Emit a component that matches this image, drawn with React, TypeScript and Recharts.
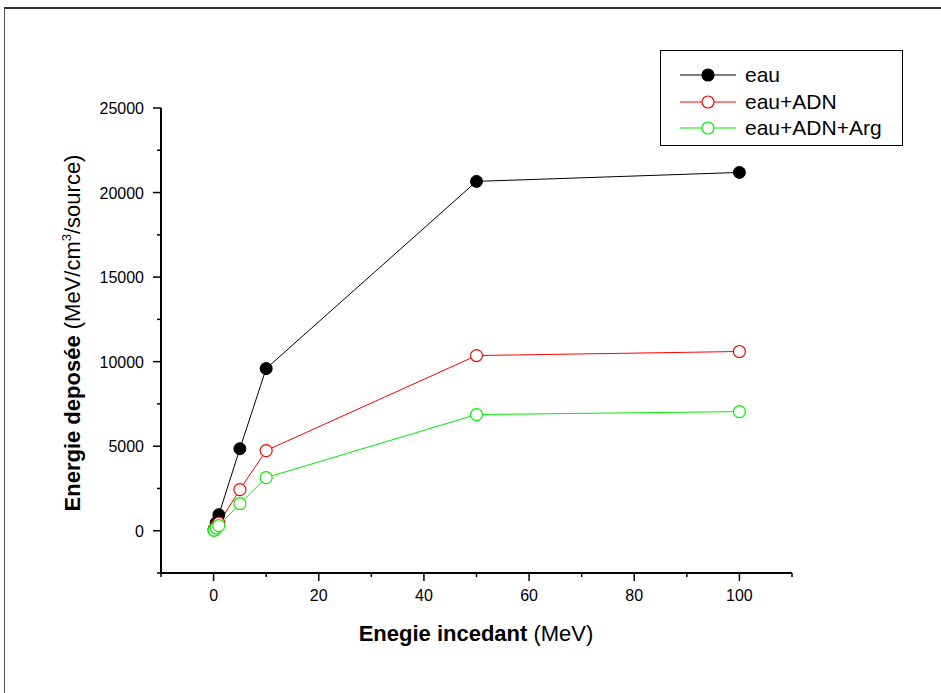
import { LineChart, Line, XAxis, YAxis } from 'recharts';

const energies = [0.1, 0.5, 1, 5, 10, 50, 100];
const eau = [100, 470, 950, 4850, 9590, 20660, 21190];
const eauAdn = [50, 230, 450, 2430, 4740, 10360, 10600];
const eauAdnArg = [30, 160, 300, 1600, 3140, 6870, 7045];

const xTicks = [-10, 0, 10, 20, 30, 40, 50, 60, 70, 80, 90, 100, 110];
const xMajor = [0, 20, 40, 60, 80, 100];
const yTicks = [-2500, 0, 2500, 5000, 7500, 10000, 12500, 15000, 17500, 20000, 22500, 25000];
const yMajor = [0, 5000, 10000, 15000, 20000, 25000];

const rows = energies.map((e, i) => ({
  e,
  eau: eau[i],
  eauAdn: eauAdn[i],
  eauAdnArg: eauAdnArg[i],
}));

const FONT = '"Liberation Sans", Arial, sans-serif';
const TS = 6;
const TM = 4;

function XTick(props: any) {
  const { x, y, payload } = props;
  const axisY = y - TS - TM;
  const major = xMajor.includes(payload.value);
  return (
    <g>
      <line x1={x} x2={x} y1={axisY} y2={axisY + (major ? 8 : 4)} stroke="#000" strokeWidth={1.5} />
      {major && (
        <text x={x} y={axisY + 28} textAnchor="middle" fontSize={16} fontFamily={FONT} fill="#000">
          {payload.value}
        </text>
      )}
    </g>
  );
}

function YTick(props: any) {
  const { x, y, payload } = props;
  const axisX = x + TS + TM;
  const major = yMajor.includes(payload.value);
  return (
    <g>
      <line x1={axisX} x2={axisX - (major ? 8 : 4)} y1={y} y2={y} stroke="#000" strokeWidth={1.5} />
      {major && (
        <text x={axisX - 17} y={y + 6} textAnchor="end" fontSize={16} fontFamily={FONT} fill="#000">
          {payload.value}
        </text>
      )}
    </g>
  );
}

function YLabel() {
  return (
    <text
      transform="translate(80, 333) rotate(-90)"
      textAnchor="middle"
      fontSize={22}
      fontFamily={FONT}
      fill="#000"
    >
      <tspan fontWeight="bold">Energie deposée</tspan>
      <tspan> (MeV/cm</tspan>
      <tspan fontSize={13} dy={-9}>3</tspan>
      <tspan dy={9}>/source)</tspan>
    </text>
  );
}

function XLabel() {
  return (
    <text x={476} y={641} textAnchor="middle" fontSize={22} fontFamily={FONT} fill="#000">
      <tspan fontWeight="bold">Enegie incedant</tspan>
      <tspan> (MeV)</tspan>
    </text>
  );
}

const legendItems = [
  { name: 'eau', color: '#000000', filled: true },
  { name: 'eau+ADN', color: '#ff0000', filled: false },
  { name: 'eau+ADN+Arg', color: '#00ee00', filled: false },
];

function LegendBox() {
  return (
    <div
      style={{
        position: 'absolute',
        left: 660,
        top: 50,
        border: '1px solid #000',
        width: 243,
        height: 96,
        boxSizing: 'border-box',
        background: '#fff',
        fontFamily: FONT,
        fontSize: 21,
        paddingTop: 11,
      }}
    >
      {legendItems.map((it) => (
        <div key={it.name} style={{ display: 'flex', alignItems: 'center', height: 26.5 }}>
          <svg width={60} height={20} style={{ marginLeft: 19, flex: 'none' }}>
            <line x1={0} x2={56} y1={10} y2={10} stroke={it.color} strokeWidth={1} />
            <circle cx={28} cy={10} r={6} fill={it.filled ? it.color : '#fff'} stroke={it.color} strokeWidth={1.2} />
          </svg>
          <span style={{ marginLeft: 5, lineHeight: '26px' }}>{it.name}</span>
        </div>
      ))}
    </div>
  );
}

export default function App() {
  return (
    <div style={{ position: 'fixed', left: 0, top: 0, width: 941, height: 693, background: '#fff', overflow: 'hidden' }}>
      <div
        style={{
          position: 'absolute',
          left: 4,
          top: 7,
          width: 1000,
          height: 1000,
          borderLeft: '1px solid #555',
          borderTop: '2px solid #333',
        }}
      />
      <LineChart
        width={941}
        height={693}
        data={rows}
        margin={{ top: 108, right: 149, bottom: 70, left: 101 }}
        style={{ position: 'absolute', left: 0, top: 0 }}
      >
        <XAxis
          dataKey="e"
          type="number"
          domain={[-10, 110]}
          ticks={xTicks}
          interval={0}
          height={50}
          tickSize={TS}
          tickMargin={TM}
          tickLine={false}
          tick={<XTick />}
          axisLine={{ stroke: '#000', strokeWidth: 2 }}
          label={<XLabel />}
        />
        <YAxis
          type="number"
          domain={[-2500, 25000]}
          ticks={yTicks}
          interval={0}
          width={60}
          tickSize={TS}
          tickMargin={TM}
          tickLine={false}
          tick={<YTick />}
          axisLine={{ stroke: '#000', strokeWidth: 2 }}
          label={<YLabel />}
        />
        <Line
          dataKey="eau"
          stroke="#000000"
          strokeWidth={1}
          dot={{ r: 6, fill: '#000000', stroke: '#000000', strokeWidth: 1 }}
          isAnimationActive={false}
        />
        <Line
          dataKey="eauAdn"
          stroke="#ff0000"
          strokeWidth={1}
          dot={{ r: 6, fill: '#ffffff', stroke: '#ff0000', strokeWidth: 1.2 }}
          isAnimationActive={false}
        />
        <Line
          dataKey="eauAdnArg"
          stroke="#00ee00"
          strokeWidth={1}
          dot={{ r: 6, fill: '#ffffff', stroke: '#00ee00', strokeWidth: 1.2 }}
          isAnimationActive={false}
        />
      </LineChart>
      <LegendBox />
    </div>
  );
}
